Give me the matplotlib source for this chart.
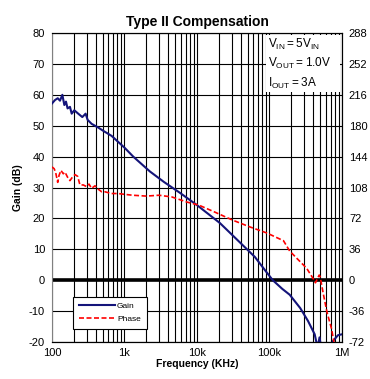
import numpy as np
import matplotlib
matplotlib.use("Agg")
import matplotlib.pyplot as plt
from matplotlib import rcParams
from matplotlib.patches import Rectangle
from matplotlib.ticker import FixedLocator, LogLocator, NullFormatter

rcParams['font.family'] = ['Liberation Sans', 'DejaVu Sans']
rcParams['mathtext.fontset'] = 'custom'
rcParams['mathtext.rm'] = 'Liberation Sans'
rcParams['axes.unicode_minus'] = False

# gain curve (Hz, dB)
gain_freq = [100, 110, 120, 129, 139, 148, 156, 164, 177, 187, 203, 230, 262,
             291, 310, 352, 435, 505, 665, 1010, 1320, 2240, 3500, 5800, 10000,
             20700, 40000, 63000, 85000, 111000, 150000, 190000, 265000,
             340000, 420000, 440000, 465000, 490000, 510000, 600000, 700000,
             750000, 880000, 1000000]
gain_db = [57.2, 58.3, 58.9, 58.1, 60.0, 56.7, 57.8, 55.6, 56.1, 53.9, 55.0,
           53.9, 52.8, 53.9, 51.9, 50.6, 49.4, 48.4, 46.7, 42.8, 40.0, 35.2,
           31.8, 28.3, 24.3, 18.5, 12.0, 7.5, 3.5, 0.0, -2.8, -4.7, -9.0,
           -13.2, -17.5, -19.7, -21.5, -18.5, -21.0, -24.0, -22.0, -19.7,
           -17.8, -17.5]

# phase curve (Hz, degrees)
phase_freq = [100, 107, 112, 120, 125, 133, 143, 151, 164, 177, 191, 208, 226,
              243, 270, 301, 324, 352, 392, 435, 485, 538, 665, 820, 1010,
              1300, 2000, 3000, 4500, 7300, 10600, 18000, 31000, 54000, 92000,
              156000, 190000, 235000, 325000, 420000, 430000, 485000, 500000,
              550000, 620000, 720000, 770000, 790000]
phase_deg = [132, 130, 126, 114, 122, 128, 124, 126, 120, 116, 120, 123, 121,
             111, 111, 109, 112, 107, 110, 106, 103, 103, 101, 101, 100, 99,
             98, 99, 97, 91, 87.5, 79, 70, 62, 55, 46, 34, 26, 14, -1, -3, 6,
             4, -15, -37, -57, -71, -76]

db_ticks = np.arange(-20, 81, 10)
deg_ticks = np.arange(-72, 289, 36)
freq_ticks = [100, 1e3, 1e4, 1e5, 1e6]
freq_labels = ['100', '1k', '10k', '100k', '1M']

fig = plt.figure(figsize=(3.70, 3.79), dpi=100)
ax = fig.add_axes([0.1405, 0.0976, 0.7838, 0.8153])
ax.set_xscale('log')
ax.set_xlim(100, 1e6)
ax.set_ylim(-20, 80)

ax.xaxis.set_major_locator(FixedLocator(freq_ticks))
ax.xaxis.set_minor_locator(LogLocator(base=10, subs=np.arange(2, 10)))
ax.xaxis.set_minor_formatter(NullFormatter())
ax.set_xticks(freq_ticks, freq_labels)
ax.set_yticks(db_ticks)
ax.grid(True, which='both', axis='x', color='black', lw=0.8)
ax.grid(True, which='major', axis='y', color='black', lw=0.8)
ax.axhline(0, color='black', lw=2.6, zorder=2)
ax.tick_params(axis='y', which='major', length=0, pad=5, labelsize=8)
ax.tick_params(axis='x', which='major', length=0, pad=4, labelsize=8)
ax.tick_params(which='minor', length=0)
ax.spines['left'].set_color('#808080')

g_line, = ax.plot(gain_freq, gain_db, color='#14147a', lw=1.5, zorder=3,
                  label='Gain')
ax.set_xlabel('Frequency (KHz)', fontsize=7.5, fontweight='bold', labelpad=1)
ax.set_ylabel('Gain (dB)', fontsize=7.5, fontweight='bold', labelpad=4)
ax.set_title('Type II Compensation', fontsize=10, fontweight='bold', pad=5)

ax2 = ax.twinx()
ax2.set_ylim(-72, 288)
ax2.set_yticks(deg_ticks)
ax2.tick_params(length=0, pad=5, labelsize=8)
ax2.spines['left'].set_visible(False)
p_line, = ax2.plot(phase_freq, phase_deg, color='#ff0000', lw=1.2,
                   linestyle=(0, (3, 1.5)), label='Phase')

ax2.add_patch(Rectangle((0.738, 0.809), 0.255, 0.184, transform=ax2.transAxes,
                        facecolor='white', edgecolor='none', zorder=5))
info = [r'$\mathregular{V_{IN}=5V_{IN}}$',
        r'$\mathregular{V_{OUT}=1.0V}$',
        r'$\mathregular{I_{OUT}=3A}$']
for txt, yy in zip(info, [0.964, 0.900, 0.838]):
    ax2.text(0.745, yy, txt, transform=ax2.transAxes, fontsize=8.5,
             va='center', ha='left', zorder=6)

leg = ax2.legend(handles=[g_line, p_line], loc='lower left',
                 bbox_to_anchor=(0.072, 0.042), borderaxespad=0, fontsize=6,
                 handlelength=4.4, handletextpad=0.2, borderpad=0.7,
                 labelspacing=0.6, fancybox=False, framealpha=1)
leg.get_frame().set_edgecolor('black')
leg.get_frame().set_linewidth(0.8)
leg.set_zorder(6)

fig.savefig('out.png', dpi=100)
